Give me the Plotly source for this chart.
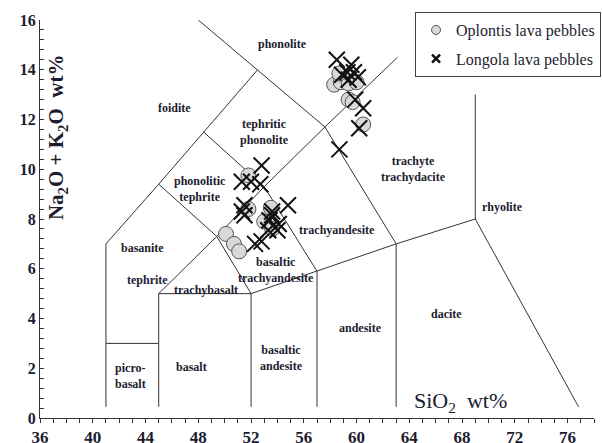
import plotly.graph_objects as go

# --- TAS classification boundaries (SiO2, Na2O+K2O), one polyline per list ---
tas_boundaries = [
    [(41, 0.45), (41, 7), (45, 9.4), (48.4, 11.5), (52.5, 14)],
    [(48, 16), (52.5, 14), (57.6, 11.7), (63, 7)],
    [(41, 3), (45, 3)],
    [(45, 0.45), (45, 5), (52, 5), (57, 5.9), (63, 7), (69, 8)],
    [(52, 0.45), (52, 5)],
    [(57, 0.45), (57, 5.9)],
    [(63, 0.45), (63, 7)],
    [(69, 13), (69, 8), (76.83, 0.45)],
    [(45, 5), (49.4, 7.3), (53, 9.3), (57.6, 11.7), (63.1, 14.5)],
    [(49.4, 7.3), (52, 5)],
    [(53, 9.3), (57, 5.9)],
    [(45, 9.4), (49.4, 7.3)],
    [(48.4, 11.5), (53, 9.3)],
]

# --- field names and where they sit ---
field_names = ["phonolite", "foidite", "tephritic<br>phonolite", "phonolitic<br>tephrite",
               "basanite", "tephrite", "trachybasalt", "basaltic<br>trachyandesite",
               "trachyandesite", "trachyte<br>trachydacite", "rhyolite", "andesite",
               "dacite", "basaltic<br>andesite", "basalt", "picro-<br>basalt"]
field_x = [54.4, 46.2, 53.0, 48.1, 43.8, 44.15, 48.57, 53.9,
           58.5, 64.35, 71.1, 60.3, 66.85, 54.3, 47.5, 42.86]
field_y = [15.02, 12.45, 11.5, 9.2, 6.83, 5.55, 5.15, 5.95,
           7.56, 10.0, 8.5, 3.6, 4.2, 2.4, 2.05, 1.67]

# --- samples ---
oplontis_sio2 = [50.1, 50.7, 51.1, 51.8, 51.8, 53.5, 53.0, 53.6,
                 58.3, 58.8, 59.4, 60.0, 58.7, 59.4, 59.7, 60.5]
oplontis_alk = [7.4, 7.0, 6.7, 9.75, 8.4, 8.45, 7.9, 7.6,
                13.4, 13.5, 13.45, 13.5, 13.85, 12.8, 12.7, 11.8]

longola_sio2 = [58.5, 59.6, 59.3, 59.8, 58.9, 59.4, 60.1, 59.9, 60.5, 60.2, 58.7,
                52.8, 51.3, 52.0, 52.7, 51.5, 51.3, 51.5, 53.6, 54.8, 53.4,
                54.1, 53.3, 54.0, 52.3, 52.8, 53.6]
longola_alk = [14.4, 14.2, 13.9, 13.9, 13.8, 13.6, 13.7, 12.8, 12.45, 11.65, 10.8,
               10.15, 9.5, 9.5, 9.4, 8.55, 8.3, 8.15, 8.15, 8.55, 7.95,
               7.8, 7.55, 7.55, 7.0, 7.1, 8.3]

INK = "#1c1c30"
SERIF = "Liberation Serif"

fig = go.Figure()

# boundary lines as a single trace separated by gaps
bx, by = [], []
for seg in tas_boundaries:
    for sx, sy in seg:
        bx.append(sx)
        by.append(sy)
    bx.append(None)
    by.append(None)
fig.add_trace(go.Scatter(x=bx, y=by, mode="lines", line=dict(color="#333333", width=1),
                         hoverinfo="skip", showlegend=False))

fig.add_trace(go.Scatter(
    x=oplontis_sio2, y=oplontis_alk, mode="markers", showlegend=False,
    marker=dict(symbol="circle", size=15, color="#d9d9d9",
                line=dict(color="#555555", width=1))))
fig.add_trace(go.Scatter(
    x=longola_sio2, y=longola_alk, mode="markers", showlegend=False,
    marker=dict(symbol="x-thin", size=16, line=dict(color="#111111", width=2))))

# legend entries
fig.add_trace(go.Scatter(
    x=[None], y=[None], mode="markers", name="Oplontis lava pebbles", legendgroup="a",
    marker=dict(symbol="circle", size=9, color="#d9d9d9", line=dict(color="#555555", width=1))))
fig.add_trace(go.Scatter(
    x=[None], y=[None], mode="markers", name="Longola lava pebbles", legendgroup="b",
    marker=dict(symbol="x-thin", size=8, line=dict(color="#111111", width=2.5))))

for name, fx, fy in zip(field_names, field_x, field_y):
    fig.add_annotation(x=fx, y=fy, text=name, showarrow=False,
                       font=dict(family=SERIF, size=12, color=INK, weight="bold"))

fig.add_annotation(x=37.3, y=11.3, text="Na<sub>2</sub>O + K<sub>2</sub>O  wt%",
                   textangle=-90, showarrow=False,
                   font=dict(family=SERIF, size=21, color=INK, weight="bold"))
fig.add_annotation(x=67.9, y=0.64, text="SiO<sub>2</sub>  wt%", showarrow=False,
                   font=dict(family=SERIF, size=22, color=INK))

fig.update_layout(
    width=602, height=443,
    margin=dict(l=40, r=1, t=20, b=25),
    paper_bgcolor="white", plot_bgcolor="white",
    legend=dict(x=0.677, y=1.02, xanchor="left", yanchor="top",
                bgcolor="white", bordercolor="#444444", borderwidth=1,
                font=dict(family=SERIF, size=16, color=INK), itemwidth=30,
                tracegroupgap=5, traceorder="grouped"),
    xaxis=dict(range=[36, 78], showgrid=False, zeroline=False, showline=True,
               automargin=False,
               linecolor="#333333", linewidth=1, ticks="outside", ticklen=4,
               tickcolor="#333333", dtick=4, tick0=36, ticklabelstandoff=0,
               minor=dict(ticks="outside", dtick=1, ticklen=4, tickcolor="#333333"),
               tickfont=dict(family=SERIF, size=17, color=INK, weight="bold")),
    yaxis=dict(range=[0, 16], showgrid=False, zeroline=False, showline=True,
               automargin=False,
               linecolor="#333333", linewidth=1, ticks="inside", ticklen=4,
               tickcolor="#333333", dtick=2, tick0=0,
               minor=dict(ticks="inside", dtick=0.4, ticklen=4, tickcolor="#333333"),
               tickfont=dict(family=SERIF, size=16, color=INK, weight="bold")),
)

fig.write_html("out.html")
